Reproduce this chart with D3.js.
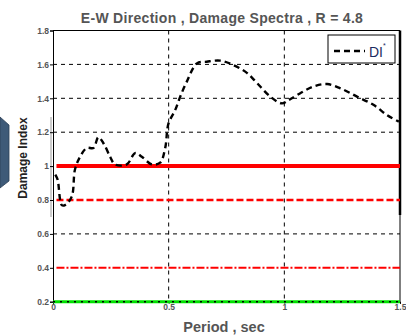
<!DOCTYPE html>
<html>
<head>
<meta charset="utf-8">
<script src="https://cdn.jsdelivr.net/npm/d3@7"></script>
<style>
  html, body { margin: 0; padding: 0; background: #fff; }
  svg { display: block; font-family: Arial, "Liberation Sans", sans-serif; }
</style>
</head>
<body>
<svg id="chart" width="406" height="336"></svg>
<script>
// Damage spectrum DI* versus period (E-W direction, R = 4.8)
const periods = [0.01, 0.02, 0.038, 0.052, 0.081, 0.095, 0.117, 0.146, 0.175, 0.196, 0.218, 0.247,
  0.268, 0.319, 0.355, 0.384, 0.427, 0.463, 0.485, 0.499, 0.528, 0.55, 0.579, 0.622, 0.665,
  0.723, 0.78, 0.838, 0.882, 0.939, 0.99, 1.019, 1.069, 1.127, 1.185, 1.242, 1.314, 1.387,
  1.445, 1.495];
const damageIndex = [0.95, 0.92, 0.77, 0.77, 0.82, 0.98, 1.055, 1.107, 1.107, 1.17, 1.135, 1.055,
  1.01, 1.01, 1.077, 1.055, 1.01, 1.02, 1.107, 1.25, 1.33, 1.41, 1.50, 1.606, 1.616,
  1.622, 1.596, 1.55, 1.49, 1.41, 1.37, 1.39, 1.43, 1.47, 1.484, 1.459, 1.41, 1.36,
  1.30, 1.262];

// Damage state limits drawn as horizontal reference lines
const limitValues = [1.0, 0.8, 0.4, 0.2];
const limitStart = [0.015, 0.015, 0.015, 0.0];

const xTicks = [0, 0.5, 1, 1.5];
const xTickLabels = ["0", "0.5", "1", "1.5"];
const yTicks = [0.2, 0.4, 0.6, 0.8, 1.0, 1.2, 1.4, 1.6, 1.8];
const yTickLabels = ["0.2", "0.4", "0.6", "0.8", "1", "1.2", "1.4", "1.6", "1.8"];
const yGrid = [0.6, 1.2, 1.4, 1.6];
const xGrid = [0.5, 1.0];

const svg = d3.select("#chart");
const L = 53, R = 400, T = 30.5, B = 301.7;

const x = d3.scaleLinear().domain([0, 1.5]).range([L, R]);
const y = d3.scaleLinear().domain([0.2, 1.8]).range([B, T]);

// slide decoration at the left edge
svg.append("path")
  .attr("d", "M0,117 L9,125 L9,181 L0,188 Z")
  .attr("fill", "#3e5a78").attr("stroke", "#2c3f55").attr("stroke-width", 0.8);
svg.append("line").attr("x1", 51).attr("x2", 51).attr("y1", 117).attr("y2", 217)
  .attr("stroke", "#9a9a9a").attr("stroke-width", 1);

// dashed grid
const grid = svg.append("g").attr("stroke", "#000").attr("stroke-width", 1)
  .attr("stroke-dasharray", "4,4").attr("fill", "none");
grid.selectAll("line.h").data(yGrid).join("line").attr("class", "h")
  .attr("x1", L).attr("x2", R).attr("y1", d => y(d)).attr("y2", d => y(d));
grid.selectAll("line.v").data(xGrid).join("line").attr("class", "v")
  .attr("x1", d => x(d)).attr("x2", d => x(d)).attr("y1", T).attr("y2", B);

// frame
svg.append("line").attr("x1", L).attr("x2", R).attr("y1", T).attr("y2", T).attr("stroke", "#000").attr("stroke-width", 1);
svg.append("line").attr("x1", R).attr("x2", R).attr("y1", T).attr("y2", 215).attr("stroke", "#000").attr("stroke-width", 2.5);
svg.append("line").attr("x1", R).attr("x2", R).attr("y1", 215).attr("y2", B).attr("stroke", "#000").attr("stroke-width", 1);

// axes
const yAxis = svg.append("g").attr("transform", `translate(${L},0)`)
  .call(d3.axisLeft(y).tickValues(yTicks).tickSize(3).tickFormat((d, i) => yTickLabels[i]));
const xAxis = svg.append("g").attr("transform", `translate(0,${B})`)
  .call(d3.axisBottom(x).tickValues(xTicks).tickSize(2).tickFormat((d, i) => xTickLabels[i]));
[yAxis, xAxis].forEach(a => {
  a.select(".domain").attr("stroke", "#000");
  a.selectAll("text").attr("font-size", 8.5).attr("font-weight", "bold").attr("fill", "#555")
    .attr("font-family", "Arial, 'Liberation Sans', sans-serif");
  a.selectAll(".tick line").attr("stroke", "#000");
});
yAxis.selectAll("text").attr("x", -4);
xAxis.selectAll("text").attr("y", 2);

// limit lines
const limitStyle = [
  { color: "#ff0000", width: 4, dash: null },
  { color: "#ff0000", width: 2.5, dash: "7,3" },
  { color: "#ff0000", width: 2, dash: "8,2,2,2" },
  { color: "#00e000", width: 3, dash: null }
];
limitValues.forEach((v, i) => {
  const s = limitStyle[i];
  const ln = svg.append("line")
    .attr("x1", x(limitStart[i])).attr("x2", x(1.5))
    .attr("y1", y(v)).attr("y2", y(v))
    .attr("stroke", s.color).attr("stroke-width", s.width);
  if (s.dash) ln.attr("stroke-dasharray", s.dash);
});
// dotted overlay on the lowest limit
svg.append("line").attr("x1", x(0)).attr("x2", x(1.5)).attr("y1", y(0.2)).attr("y2", y(0.2))
  .attr("stroke", "#000").attr("stroke-width", 1.6).attr("stroke-dasharray", "2,5");

// DI* curve
const pts = periods.map((p, i) => [p, damageIndex[i]]);
svg.append("path").datum(pts)
  .attr("d", d3.line().x(d => x(d[0])).y(d => y(d[1])).curve(d3.curveCatmullRom))
  .attr("fill", "none").attr("stroke", "#000").attr("stroke-width", 2.4)
  .attr("stroke-dasharray", "6,4");

// legend
const lg = svg.append("g");
lg.append("rect").attr("x", 328).attr("y", 35).attr("width", 67).attr("height", 28)
  .attr("fill", "#fff").attr("stroke", "#000").attr("stroke-width", 1);
lg.append("line").attr("x1", 334).attr("x2", 365).attr("y1", 51).attr("y2", 51)
  .attr("stroke", "#000").attr("stroke-width", 2.4).attr("stroke-dasharray", "6,4");
const lt = lg.append("text").attr("x", 369).attr("y", 57).attr("font-size", 14)
  .attr("fill", "#1a2a60").text("DI");
lt.append("tspan").attr("dy", -9).attr("font-size", 7).text("*");

// titles
svg.append("text").attr("x", 222).attr("y", 23).attr("text-anchor", "middle")
  .attr("font-size", 14).attr("letter-spacing", 0.3).attr("fill", "#555").attr("font-weight", "bold")
  .text("E-W Direction , Damage Spectra , R = 4.8");
svg.append("text").attr("x", 224).attr("y", 332).attr("text-anchor", "middle")
  .attr("font-size", 14.5).attr("fill", "#555").attr("font-weight", "bold")
  .text("Period , sec");
svg.append("text").attr("transform", "translate(27,158) rotate(-90)").attr("text-anchor", "middle")
  .attr("font-size", 12).attr("fill", "#222").attr("font-weight", "bold")
  .text("Damage Index");
</script>
</body>
</html>
